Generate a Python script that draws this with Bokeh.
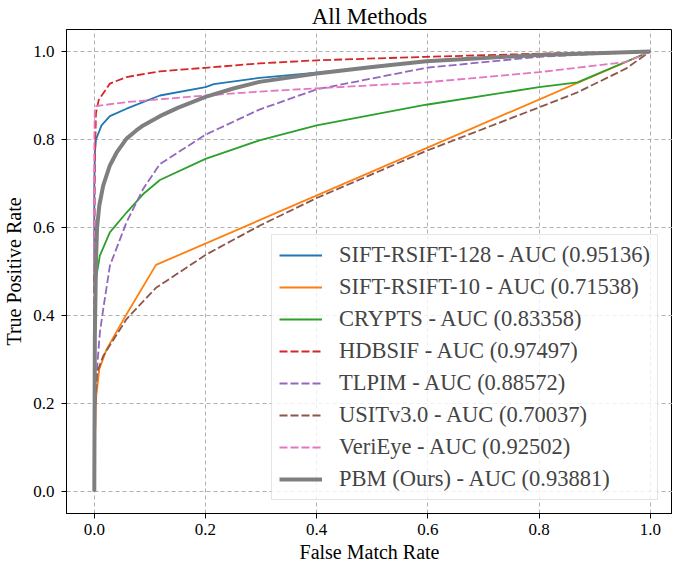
from bokeh.plotting import figure
from bokeh.models import FixedTicker, PrintfTickFormatter, Range1d, ColumnDataSource
from bokeh.embed import file_html
from bokeh.resources import INLINE

# ---- data ----
ticks = [0.0, 0.2, 0.4, 0.6, 0.8, 1.0]

sift128_x = [0.0, 0.0, 0.001, 0.003, 0.013, 0.028, 0.058, 0.118, 0.2, 0.215, 0.297, 0.41, 0.6, 0.8, 1.0]
sift128_y = [0.45, 0.7, 0.77, 0.80, 0.832, 0.853, 0.870, 0.900, 0.919, 0.926, 0.940, 0.953, 0.978, 0.992, 1.0]

sift10_x = [0.001, 0.002, 0.003, 0.009, 0.022, 0.058, 0.111, 1.0]
sift10_y = [0.13, 0.15, 0.21, 0.278, 0.323, 0.403, 0.515, 1.0]

crypts_x = [0.0, 0.0, 0.001, 0.004, 0.010, 0.028, 0.058, 0.088, 0.118, 0.2, 0.297, 0.4, 0.597, 0.8, 0.869, 1.0]
crypts_y = [0.0, 0.42, 0.45, 0.49, 0.536, 0.589, 0.634, 0.676, 0.708, 0.756, 0.798, 0.832, 0.879, 0.919, 0.930, 1.0]

hdbsif_x = [0.0, 0.0, 0.001, 0.003, 0.008, 0.028, 0.058, 0.118, 0.2, 0.297, 0.4, 0.6, 0.8, 1.0]
hdbsif_y = [0.15, 0.5, 0.75, 0.86, 0.89, 0.927, 0.942, 0.955, 0.963, 0.973, 0.980, 0.988, 0.995, 1.0]

tlpim_x = [0.002, 0.005, 0.010, 0.016, 0.028, 0.058, 0.088, 0.118, 0.2, 0.297, 0.4, 0.597, 0.8, 1.0]
tlpim_y = [0.2, 0.28, 0.361, 0.414, 0.513, 0.612, 0.688, 0.744, 0.811, 0.868, 0.914, 0.963, 0.988, 1.0]

usit_x = [0.002, 0.005, 0.016, 0.058, 0.111, 0.202, 0.297, 0.4, 0.597, 0.8, 0.869, 0.956, 1.0]
usit_y = [0.2, 0.27, 0.308, 0.392, 0.463, 0.539, 0.604, 0.667, 0.774, 0.873, 0.907, 0.961, 1.0]

verieye_x = [0.0, 0.0, 0.001, 0.003, 0.058, 0.2, 0.297, 0.597, 0.8, 0.956, 1.0]
verieye_y = [0.5, 0.8, 0.87, 0.876, 0.885, 0.900, 0.909, 0.930, 0.953, 0.976, 1.0]

pbm_x = [0.0, 0.001, 0.003, 0.005, 0.009, 0.016, 0.028, 0.04, 0.058, 0.075, 0.088, 0.118, 0.15, 0.2, 0.25, 0.297, 0.4, 0.5, 0.597, 0.8, 1.0]
pbm_y = [0.0, 0.35, 0.52, 0.6, 0.65, 0.695, 0.741, 0.77, 0.802, 0.82, 0.832, 0.853, 0.872, 0.897, 0.916, 0.931, 0.950, 0.965, 0.978, 0.992, 1.0]

series = [
    ("SIFT-RSIFT-128 - AUC (0.95136)", sift128_x, sift128_y, "#1f77b4", "solid", 1.8),
    ("SIFT-RSIFT-10 - AUC (0.71538)", sift10_x, sift10_y, "#ff7f0e", "solid", 1.8),
    ("CRYPTS - AUC (0.83358)", crypts_x, crypts_y, "#2ca02c", "solid", 1.8),
    ("HDBSIF - AUC (0.97497)", hdbsif_x, hdbsif_y, "#d62728", "8 3", 1.8),
    ("TLPIM - AUC (0.88572)", tlpim_x, tlpim_y, "#9467bd", "8 3", 1.8),
    ("USITv3.0 - AUC (0.70037)", usit_x, usit_y, "#8c564b", "8 3", 1.8),
    ("VeriEye - AUC (0.92502)", verieye_x, verieye_y, "#e377c2", "8 3", 1.8),
    ("PBM (Ours) - AUC (0.93881)", pbm_x, pbm_y, "#7f7f7f", "solid", 4),
]

FONT = "Liberation Serif"

p = figure(frame_width=606, frame_height=484,
           x_range=Range1d(-0.05, 1.04), y_range=Range1d(-0.05, 1.05),
           output_backend="svg", toolbar_location=None, title="All Methods",
           min_border_left=59, min_border_right=0, min_border_top=0, min_border_bottom=44)

for label, xs, ys, color, dash, lw in series:
    src = ColumnDataSource(dict(x=xs, y=ys))
    p.line("x", "y", source=src, line_color=color, line_dash=dash, line_width=lw,
           legend_label=label)

p.title.align = "center"
p.title.text_font = FONT
p.title.text_font_size = "23px"
p.title.text_font_style = "normal"
p.title.text_color = "black"
p.title.standoff = 2
p.title.offset = 0

for ax in (p.xaxis, p.yaxis):
    ax.ticker = FixedTicker(ticks=ticks)
    ax.formatter = PrintfTickFormatter(format="%.1f")
    ax.major_label_text_font = FONT
    ax.major_label_text_font_size = "17px"
    ax.major_label_text_color = "black"
    ax.axis_label_text_font = FONT
    ax.axis_label_text_font_size = "20px"
    ax.axis_label_text_font_style = "normal"
    ax.axis_label_text_color = "black"
    ax.minor_tick_line_color = None
    ax.major_tick_in = 0
    ax.major_tick_out = 5
    ax.major_tick_line_color = "black"
    ax.axis_line_color = "black"

p.xaxis.axis_label = "False Match Rate"
p.yaxis.axis_label = "True Positive Rate"
p.xaxis.major_label_standoff = 5
p.yaxis.major_label_standoff = 7
p.xaxis.axis_label_standoff = 3
p.yaxis.axis_label_standoff = 5

p.xgrid.ticker = FixedTicker(ticks=ticks)
p.ygrid.ticker = FixedTicker(ticks=ticks)
p.grid.grid_line_color = "#b0b0b0"
p.grid.grid_line_dash = "4 3"
p.grid.grid_line_width = 1

p.outline_line_color = "black"
p.outline_line_width = 1
p.background_fill_color = "white"
p.border_fill_color = "white"

lg = p.legend[0]
lg.location = (205, 13)
lg.label_text_font = FONT
lg.label_text_font_size = "22.5px"
lg.glyph_width = 43
lg.glyph_height = 26
lg.label_height = 26
lg.label_standoff = 17
lg.spacing = 6
lg.padding = 7
lg.margin = 0
lg.border_line_color = "#cccccc"
lg.border_line_width = 1
lg.background_fill_alpha = 0.8

open("out.html", "w").write(file_html(p, INLINE))
